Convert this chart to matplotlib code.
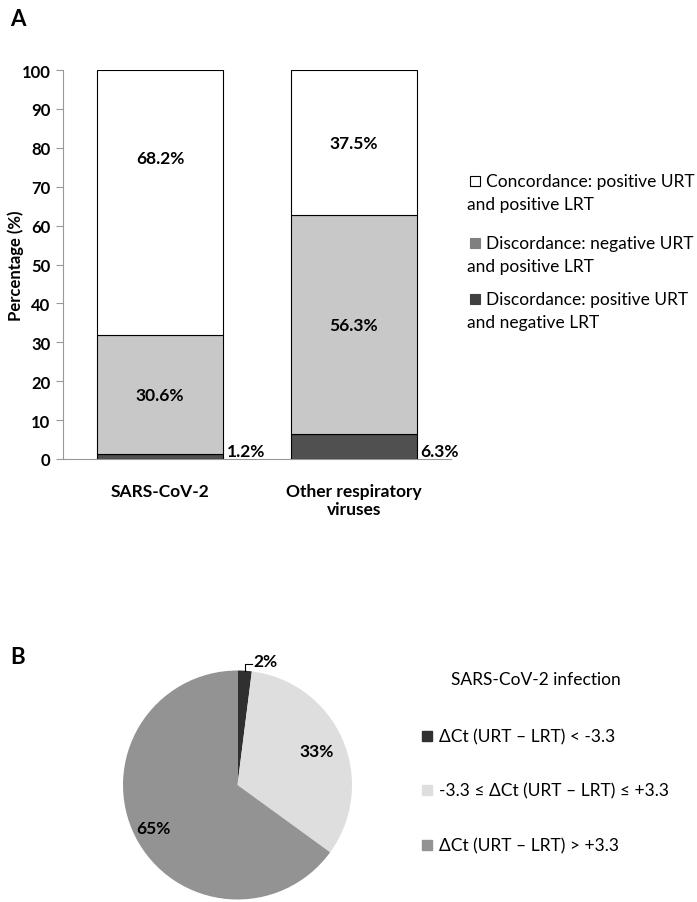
import matplotlib.pyplot as plt
from matplotlib.patches import Rectangle
import numpy as np

plt.rcParams['font.family'] = ['Lato', 'DejaVu Sans']

# panel A data
categories = ["SARS-CoV-2", "Other respiratory\nviruses"]
disc_pos_neg = [1.2, 6.3]
disc_neg_pos = [30.6, 56.3]
concordance = [68.2, 37.5]
legend_a = ["Concordance: positive URT\nand positive LRT",
            "Discordance: negative URT\nand positive LRT",
            "Discordance: positive URT\nand negative LRT"]

# panel B data
pie_values = [2, 33, 65]
pie_labels = ["\u0394Ct (URT \u2013 LRT) < -3.3",
              "-3.3 \u2264 \u0394Ct (URT \u2013 LRT) \u2264 +3.3",
              "\u0394Ct (URT \u2013 LRT) > +3.3"]

W, H = 697, 903
fig = plt.figure(figsize=(W / 100, H / 100), dpi=100)

def fx(px):
    return px / W

def fy(py):
    return 1 - py / H

FS = 12.5

# ---- panel A ----
ax = fig.add_axes([fx(63), fy(460), fx(451) - fx(63), fy(71) - fy(460)])
x = np.arange(len(categories))
bw = 0.645
c_dark, c_mid, c_white = "#505050", "#c8c8c8", "#ffffff"
ax.bar(x, disc_pos_neg, bw, color=c_dark, edgecolor="black", linewidth=0.8)
ax.bar(x, disc_neg_pos, bw, bottom=disc_pos_neg, color=c_mid,
       edgecolor="black", linewidth=0.8)
bot2 = np.array(disc_pos_neg) + np.array(disc_neg_pos)
ax.bar(x, concordance, bw, bottom=bot2, color=c_white, edgecolor="black",
       linewidth=0.8)

ax.set_xlim(-0.5, 1.5)
ax.set_ylim(0, 100)
ax.set_yticks(np.arange(0, 101, 10))
ax.tick_params(axis="y", length=5, color="#999999", labelsize=12, pad=4)
ax.tick_params(axis="x", length=0, labelsize=FS, pad=17)
for t in ax.get_yticklabels():
    t.set_fontweight("bold")
ax.set_xticks(x)
ax.set_xticklabels(categories, fontweight="bold")
for s in ["top", "right"]:
    ax.spines[s].set_visible(False)
for s in ["left", "bottom"]:
    ax.spines[s].set_color("#999999")
ax.set_ylabel("Percentage (%)", fontsize=12, fontweight="bold", va="center")
ax.yaxis.set_label_coords((16 - 63) / 388, 0.5)

for i in range(len(categories)):
    ax.text(x[i], disc_pos_neg[i] + disc_neg_pos[i] / 2, f"{disc_neg_pos[i]}%",
            ha="center", va="center", fontsize=FS, fontweight="bold")
    ax.text(x[i], bot2[i] + concordance[i] - 22.5 if i == 0 else bot2[i] + concordance[i] / 2,
            f"{concordance[i]}%", ha="center", va="center", fontsize=FS,
            fontweight="bold")
    ax.text(x[i] + bw / 2 + 0.02, 0, f"{disc_pos_neg[i]}%", ha="left",
            va="bottom", fontsize=FS, fontweight="bold")

fig.text(fx(10), fy(20), "A", fontsize=16, fontweight="bold", va="center")

leg_colors_a = [c_white, "#808080", "#404040"]
leg_y_a = [182, 244, 300]
for lab, col, yy in zip(legend_a, leg_colors_a, leg_y_a):
    fig.patches.append(Rectangle((fx(470), fy(yy + 5)), fx(10), fy(0) - fy(10),
                                 transform=fig.transFigure, facecolor=col,
                                 edgecolor="black" if col == c_white else col,
                                 linewidth=0.8))
    first, second = lab.split("\n")
    fig.text(fx(486), fy(yy), first, fontsize=FS, va="center")
    fig.text(fx(467), fy(yy + 23), second, fontsize=FS, va="center")

# ---- panel B ----
fig.text(fx(10), fy(658), "B", fontsize=16, fontweight="bold", va="center")
r_px = 114.5
cx, cy = 237.5, 786
axp = fig.add_axes([fx(cx - r_px), fy(cy + r_px), fx(2 * r_px), fy(0) - fy(2 * r_px)])
pie_colors = ["#303030", "#dedede", "#939393"]
wedges, _ = axp.pie(pie_values, colors=pie_colors, startangle=90,
                    counterclock=False, radius=1.0)
axp.set_xlim(-1, 1)
axp.set_ylim(-1, 1)
axp.set_aspect("equal")
axp.axis("off")

cum = np.cumsum([0] + pie_values)
for i, v in enumerate(pie_values):
    mid = np.deg2rad(90 - (cum[i] + v / 2) * 3.6)
    if i == 0:
        xe, ye = np.cos(mid), np.sin(mid)
        axp.plot([xe, xe, xe + 0.06], [ye, 1.06, 1.06], color="black",
                 linewidth=0.8, clip_on=False)
        axp.text(xe + 0.08, 1.08, f"{v}%", ha="left", va="center",
                 fontsize=FS, fontweight="bold", clip_on=False)
    else:
        rr = 0.75 if i == 1 else 0.82
        axp.text(rr * np.cos(mid), rr * np.sin(mid), f"{v}%", ha="center",
                 va="center", fontsize=FS, fontweight="bold")

fig.text(fx(536), fy(680), "SARS-CoV-2 infection", fontsize=FS, ha="center",
         va="center")
leg_y_b = [737, 791, 846]
for lab, col, yy in zip(pie_labels, pie_colors, leg_y_b):
    fig.patches.append(Rectangle((fx(422), fy(yy + 5)), fx(10), fy(0) - fy(10),
                                 transform=fig.transFigure, facecolor=col,
                                 edgecolor=col))
    fig.text(fx(439), fy(yy), lab, fontsize=FS, va="center")

fig.savefig("out.png", dpi=100)
